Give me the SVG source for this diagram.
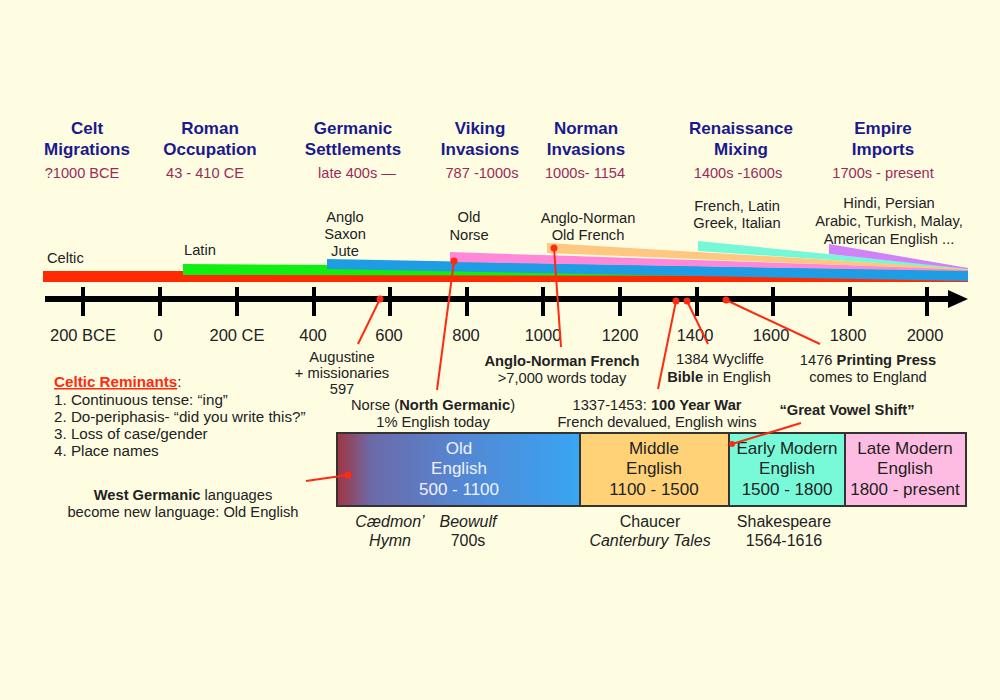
<svg xmlns="http://www.w3.org/2000/svg" width="1000" height="700" viewBox="0 0 1000 700">
<defs>
<style>
text{font-family:"Liberation Sans",Arial,sans-serif;fill:#222;}
.title{font-size:17px;font-weight:bold;fill:#1a1a8c;text-anchor:middle;}
.date{font-size:14.6px;fill:#9b2a5a;text-anchor:middle;}
.lbl{font-size:14.7px;text-anchor:middle;}
.lst{font-size:15.2px;text-anchor:start;}
.ax{font-size:16.5px;text-anchor:middle;}
.box{font-size:17px;text-anchor:middle;}
.sub{font-size:16px;text-anchor:middle;}
.it{font-style:italic;}
.b{font-weight:bold;}
.tick{stroke:#000;stroke-width:4;}
.con{stroke:#ff2a10;stroke-width:2;fill:none;}
.dot{fill:#ff2a10;}
.era{stroke:#333;stroke-width:2;}
</style>
<linearGradient id="oeg" x1="0" y1="0" x2="1" y2="0">
<stop offset="0" stop-color="#a23440"/>
<stop offset="0.14" stop-color="#6c6aa8"/>
<stop offset="0.5" stop-color="#5586d2"/>
<stop offset="1" stop-color="#38a6f4"/>
</linearGradient>
</defs>
<rect x="0" y="0" width="1000" height="700" fill="#fefde2"/>

<g id="headers">
<text class="title" x="87" y="134">Celt</text>
<text class="title" x="87" y="155">Migrations</text>
<text class="date" x="82" y="178">?1000 BCE</text>
<text class="title" x="210" y="134">Roman</text>
<text class="title" x="210" y="155">Occupation</text>
<text class="date" x="205" y="178">43 - 410 CE</text>
<text class="title" x="353" y="134">Germanic</text>
<text class="title" x="353" y="155">Settlements</text>
<text class="date" x="357" y="178">late 400s —</text>
<text class="title" x="480" y="134">Viking</text>
<text class="title" x="480" y="155">Invasions</text>
<text class="date" x="482" y="178">787 -1000s</text>
<text class="title" x="586" y="134">Norman</text>
<text class="title" x="586" y="155">Invasions</text>
<text class="date" x="585" y="178">1000s- 1154</text>
<text class="title" x="741" y="134">Renaissance</text>
<text class="title" x="741" y="155">Mixing</text>
<text class="date" x="738" y="178">1400s -1600s</text>
<text class="title" x="883" y="134">Empire</text>
<text class="title" x="883" y="155">Imports</text>
<text class="date" x="883" y="178">1700s - present</text>
</g>

<g id="bands">
<rect x="43" y="271" width="925" height="11" fill="#ff2a00"/>
<polygon points="183,264 968,269 968,276 183,275" fill="#11ee11"/>
<polygon points="327,259 968,271 968,281 327,269" fill="#1e9ce4"/>
<polygon points="450,252 968,269 968,271 450,262" fill="#ff88d8"/>
<polygon points="547,243 968,268 968,270 547,253" fill="#ffc880"/>
<polygon points="698,241 968,268 968,269 698,251" fill="#74f8d8"/>
<polygon points="829,244 968,268 968,269 829,254" fill="#d282f8"/>
</g>

<g id="band-labels">
<text class="lbl" x="47" y="263" style="text-anchor:start">Celtic</text>
<text class="lbl" x="184" y="255" style="text-anchor:start">Latin</text>
<text class="lbl" x="345" y="222">Anglo</text>
<text class="lbl" x="345" y="239">Saxon</text>
<text class="lbl" x="345" y="256">Jute</text>
<text class="lbl" x="469" y="222">Old</text>
<text class="lbl" x="469" y="240">Norse</text>
<text class="lbl" x="588" y="223">Anglo-Norman</text>
<text class="lbl" x="588" y="240">Old French</text>
<text class="lbl" x="737" y="211">French, Latin</text>
<text class="lbl" x="737" y="228">Greek, Italian</text>
<text class="lbl" x="889" y="208">Hindi, Persian</text>
<text class="lbl" x="889" y="226">Arabic, Turkish, Malay,</text>
<text class="lbl" x="889" y="244">American English ...</text>
</g>

<g id="axis">
<line x1="45" y1="299" x2="952" y2="299" stroke="#000" stroke-width="6"/>
<polygon points="948,290 968,299 948,308" fill="#000"/>
<line class="tick" x1="83" y1="287" x2="83" y2="316"/>
<line class="tick" x1="160" y1="287" x2="160" y2="316"/>
<line class="tick" x1="237" y1="287" x2="237" y2="316"/>
<line class="tick" x1="314" y1="287" x2="314" y2="316"/>
<line class="tick" x1="390" y1="287" x2="390" y2="316"/>
<line class="tick" x1="467" y1="287" x2="467" y2="316"/>
<line class="tick" x1="543" y1="287" x2="543" y2="316"/>
<line class="tick" x1="620" y1="287" x2="620" y2="316"/>
<line class="tick" x1="697" y1="287" x2="697" y2="316"/>
<line class="tick" x1="773" y1="287" x2="773" y2="316"/>
<line class="tick" x1="850" y1="287" x2="850" y2="316"/>
<line class="tick" x1="927" y1="287" x2="927" y2="316"/>
<text class="ax" x="83" y="341">200 BCE</text>
<text class="ax" x="158" y="341">0</text>
<text class="ax" x="237" y="341">200 CE</text>
<text class="ax" x="313" y="341">400</text>
<text class="ax" x="389" y="341">600</text>
<text class="ax" x="466" y="341">800</text>
<text class="ax" x="543" y="341">1000</text>
<text class="ax" x="620" y="341">1200</text>
<text class="ax" x="695" y="341">1400</text>
<text class="ax" x="771" y="341">1600</text>
<text class="ax" x="848" y="341">1800</text>
<text class="ax" x="925" y="341">2000</text>
</g>

<g id="annotations">
<text class="lbl" x="342" y="362">Augustine</text>
<text class="lbl" x="342" y="378">+ missionaries</text>
<text class="lbl" x="342" y="394">597</text>
<text class="lbl" x="433" y="410">Norse (<tspan class="b">North Germanic</tspan>)</text>
<text class="lbl" x="433" y="427">1% English today</text>
<text class="lbl b" x="562" y="366">Anglo-Norman French</text>
<text class="lbl" x="562" y="383">&gt;7,000 words today</text>
<text class="lbl" x="720" y="364">1384 Wycliffe</text>
<text class="lbl" x="719" y="382"><tspan class="b">Bible</tspan> in English</text>
<text class="lbl" x="868" y="365">1476 <tspan class="b">Printing Press</tspan></text>
<text class="lbl" x="868" y="382">comes to England</text>
<text class="lbl" x="657" y="410">1337-1453: <tspan class="b">100 Year War</tspan></text>
<text class="lbl" x="657" y="427">French devalued, English wins</text>
<text class="lbl b" x="847" y="415">“Great Vowel Shift”</text>
</g>

<g id="celtic-reminants">
<text class="lst" x="54" y="387"><tspan class="b" style="fill:#ff2a10;text-decoration:underline">Celtic Reminants</tspan>:</text>
<text class="lst" x="54" y="405">1. Continuous tense: “ing”</text>
<text class="lst" x="54" y="422">2. Do-periphasis- “did you write this?”</text>
<text class="lst" x="54" y="439">3. Loss of case/gender</text>
<text class="lst" x="54" y="456">4. Place names</text>
</g>

<g id="west-germanic">
<text class="lbl" x="183" y="500"><tspan class="b">West Germanic</tspan> languages</text>
<text class="lbl" x="183" y="517">become new language: Old English</text>
</g>

<g id="old-english">
<rect class="era" x="337" y="433" width="243" height="73" fill="url(#oeg)"/>
<text class="box" x="459" y="454" style="fill:#eef2ff">Old</text>
<text class="box" x="459" y="474" style="fill:#eef2ff">English</text>
<text class="box" x="459" y="495" style="fill:#eef2ff">500 - 1100</text>
<text class="sub it" x="390" y="527">Cædmon’</text>
<text class="sub it" x="390" y="546">Hymn</text>
<text class="sub it" x="468" y="527">Beowulf</text>
<text class="sub" x="468" y="546">700s</text>
</g>

<g id="middle-english">
<rect class="era" x="580" y="433" width="149" height="73" fill="#ffd278"/>
<text class="box" x="654" y="454">Middle</text>
<text class="box" x="654" y="474">English</text>
<text class="box" x="654" y="495">1100 - 1500</text>
<text class="sub" x="650" y="527">Chaucer</text>
<text class="sub it" x="650" y="546">Canterbury Tales</text>
</g>

<g id="early-modern-english">
<rect class="era" x="729" y="433" width="116" height="73" fill="#78fad8"/>
<text class="box" x="787" y="454">Early Modern</text>
<text class="box" x="787" y="474">English</text>
<text class="box" x="787" y="495">1500 - 1800</text>
<text class="sub" x="784" y="527">Shakespeare</text>
<text class="sub" x="784" y="546">1564-1616</text>
</g>

<g id="late-modern-english">
<rect class="era" x="845" y="433" width="121" height="73" fill="#ffbce2"/>
<text class="box" x="905" y="454">Late Modern</text>
<text class="box" x="905" y="474">English</text>
<text class="box" x="905" y="495">1800 - present</text>
</g>

<g id="connectors">
<line class="con" x1="380" y1="299" x2="358" y2="344"/>
<circle class="dot" cx="380" cy="299" r="3.5"/>
<line class="con" x1="454" y1="261" x2="437" y2="390"/>
<circle class="dot" cx="454" cy="261" r="3.5"/>
<line class="con" x1="554" y1="248" x2="561" y2="347"/>
<circle class="dot" cx="554" cy="248" r="3.5"/>
<line class="con" x1="676" y1="301" x2="658" y2="389"/>
<circle class="dot" cx="676" cy="301" r="3.5"/>
<line class="con" x1="687" y1="301" x2="708" y2="344"/>
<circle class="dot" cx="687" cy="301" r="3.5"/>
<line class="con" x1="726" y1="300" x2="820" y2="344"/>
<circle class="dot" cx="726" cy="300" r="3.5"/>
<line class="con" x1="732" y1="444" x2="801" y2="423"/>
<circle class="dot" cx="732" cy="444" r="3"/>
<line class="con" x1="306" y1="481" x2="348" y2="475"/>
<circle class="dot" cx="348" cy="475" r="3.5"/>
</g>
</svg>
